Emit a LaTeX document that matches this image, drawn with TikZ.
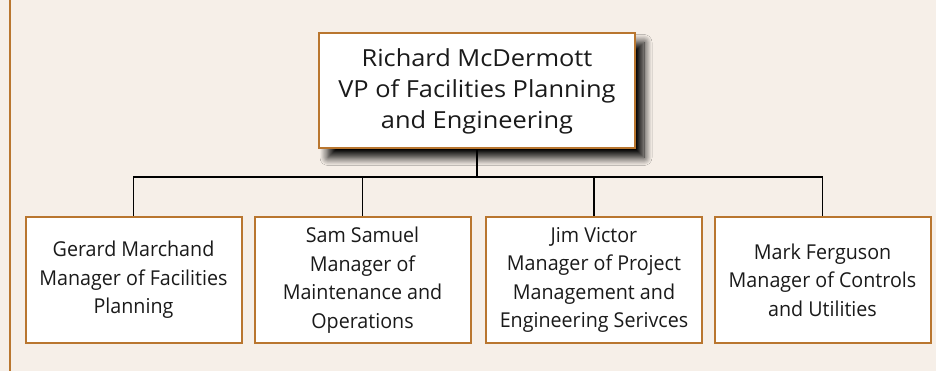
\documentclass[tikz,border=0pt]{standalone}
\usepackage{fontspec}
\setmainfont{Open Sans}
\newfontfamily\topfont[FakeStretch=1.08]{Open Sans}
\newfontfamily\condfont[FakeStretch=0.96]{Open Sans}
\usetikzlibrary{shadows.blur}
\definecolor{bg}{HTML}{F6EFE8}
\definecolor{frame}{HTML}{B9762F}
\definecolor{txt}{HTML}{1A1A1A}
\begin{document}
\begin{tikzpicture}[x=1pt,y=-1pt,
 topbox/.style={draw=frame, line width=2pt, fill=white, minimum width=316pt, minimum height=115pt, inner sep=0pt, align=center, font=\topfont\fontsize{23.5}{31}\selectfont, text=txt, blur shadow={shadow xshift=9pt, shadow yshift=-9pt, shadow blur steps=12, shadow blur radius=8pt, shadow opacity=100}},
 subbox/.style={draw=frame, line width=2pt, fill=white, minimum width=216pt, minimum height=126pt, inner sep=0pt, align=center, font=\condfont\fontsize{20.5}{28.5}\selectfont, text=txt},
 link/.style={draw=black, line width=1.2pt}]
\fill[bg] (0,0) rectangle (936,371);
\useasboundingbox (0,0) rectangle (936,371);
\draw[frame, line width=2.5pt] (10,0) -- (10,371);
\node[topbox] (top) at (477,91) {Richard McDermott\\VP of Facilities Planning\\and Engineering};
\node[subbox] (b1) at (133.5,280) {Gerard Marchand\\Manager of Facilities\\Planning};
\node[subbox] (b2) at (362.5,280) {Sam Samuel\\Manager of\\Maintenance and\\Operations};
\node[subbox] (b3) at (594,280) {Jim Victor\\Manager of Project\\Management and\\Engineering Serivces};
\node[subbox] (b4) at (822.5,280) {Mark Ferguson\\Manager of Controls\\and Utilities};
\coordinate (bus) at (477,177);
\draw[link] (top.south) -- (top.south |- bus);
\draw[link] (b1.north) -- (b1.north |- bus) -- (b4.north |- bus) -- (b4.north);
\draw[link] (b2.north) -- (b2.north |- bus);
\draw[link] (b3.north) -- (b3.north |- bus);
\end{tikzpicture}
\end{document}
